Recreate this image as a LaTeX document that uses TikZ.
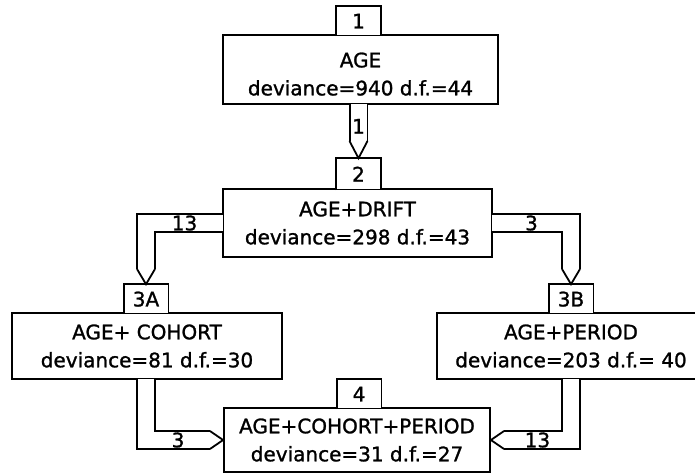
\documentclass[tikz,border=0pt]{standalone}
\usepackage{fontspec}
\setmainfont{DejaVu Sans}[FakeBold=1.2]
\usetikzlibrary{calc}

\tikzset{
  box/.style={draw, fill=white, align=center, inner sep=2pt},
  tabbox/.style={fill=white, anchor=south, minimum width=43pt, minimum height=28pt, inner sep=1pt},
  chan/.style={draw, double=white, double distance=16pt, line join=miter},
  chevron/.style={line join=miter, line cap=round}
}

\begin{document}
\begin{tikzpicture}[x=1pt, y=-1pt, line width=1.8pt, font=\fontsize{20}{28}\selectfont]
\useasboundingbox (0,0) rectangle (695,475);
\clip (0,0) rectangle (695,475);

% Modelle
\node[box, minimum width=275pt, minimum height=69pt] (box1) at (360.5,69.5) {\rule{0pt}{24pt}AGE\\deviance=940 d.f.=44};
\node[box, minimum width=269pt, minimum height=68pt] (box2) at (357.5,223) {AGE+DRIFT\\deviance=298 d.f.=43};
\node[box, minimum width=270pt, minimum height=66pt] (box3a) at (147,346) {AGE+ COHORT\\deviance=81 d.f.=30};
\node[box, minimum width=268pt, minimum height=66pt] (box3b) at (571,346) {AGE+PERIOD\\deviance=203 d.f.= 40};
\node[box, minimum width=266pt, minimum height=64pt] (box4) at (357,440) {AGE+COHORT+PERIOD\\deviance=31 d.f.=27};

% Nummern oben
\node[tabbox] (t1) at (358.5,36) {1};
\draw (t1.south west) |- (t1.north east) -- (t1.south east);
\node[tabbox, minimum height=30pt] (t2) at (358.5,190) {2};
\draw (t2.south west) |- (t2.north east) -- (t2.south east);
\node[tabbox] (t3a) at (146,314) {3A};
\draw (t3a.south west) |- (t3a.north east) -- (t3a.south east);
\node[tabbox] (t3b) at (571,314) {3B};
\draw (t3b.south west) |- (t3b.north east) -- (t3b.south east);
\node[tabbox] (t4) at (359,409) {4};
\draw (t4.south west) |- (t4.north east) -- (t4.south east);

% 1 -> 2
\draw[chan] ($(t2.north |- box1.south)+(0,-1)$) -- ($(t2.north)+(0,-17)$) node[pos=0.6] (n12) {1};
\draw[chevron] ($(t2.north)+(-8.9,-17)$) -- (t2.north) -- ($(t2.north)+(8.9,-17)$);

% 2 -> 3A
\draw[chan] ($(box2.west)+(1,0)$) -| ($(t3a.north)+(0,-15)$) node[pos=0.25] (n23a) {13};
\draw[chevron] ($(t3a.north)+(-8.9,-15)$) -- (t3a.north) -- ($(t3a.north)+(8.9,-15)$);

% 2 -> 3B
\draw[chan] ($(box2.east)+(-1,0)$) -| ($(t3b.north)+(0,-15)$) node[pos=0.25] (n23b) {3};
\draw[chevron] ($(t3b.north)+(-8.9,-15)$) -- (t3b.north) -- ($(t3b.north)+(8.9,-15)$);

% 3A -> 4
\draw[chan] ($(t3a.north |- box3a.south)+(0,-1)$) |- ($(box4.west)+(-13,0)$) node[pos=0.75] (n3a4) {3};
\draw[chevron] ($(box4.west)+(-13,-8.9)$) -- (box4.west) -- ($(box4.west)+(-13,8.9)$);

% 3B -> 4
\draw[chan] ($(t3b.north |- box3b.south)+(0,-1)$) |- ($(box4.east)+(13,0)$) node[pos=0.75] (n3b4) {13};
\draw[chevron] ($(box4.east)+(13,-8.9)$) -- (box4.east) -- ($(box4.east)+(13,8.9)$);
\end{tikzpicture}
\end{document}
